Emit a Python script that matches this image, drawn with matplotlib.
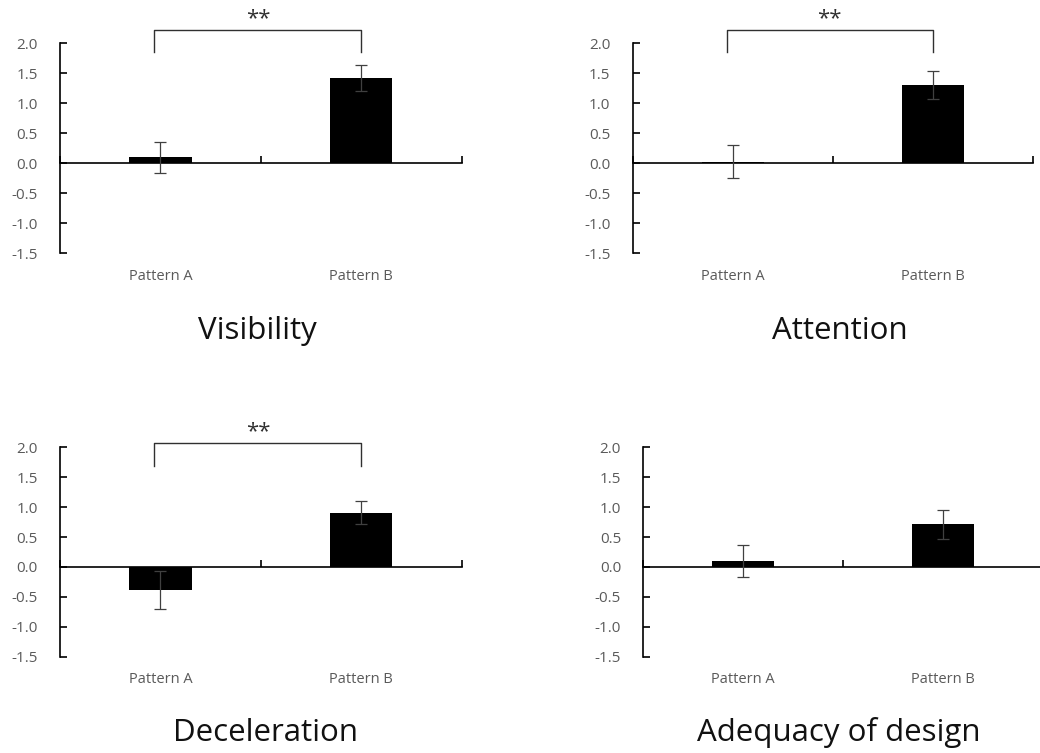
import matplotlib
matplotlib.use("Agg")
import matplotlib.pyplot as plt
from matplotlib.transforms import blended_transform_factory

plt.rcParams['font.family'] = ['Open Sans', 'DejaVu Sans']

categories = ["Pattern A", "Pattern B"]
titles = ["Visibility", "Attention", "Deceleration", "Adequacy of design"]
means = [
    [0.10, 1.42],
    [0.03, 1.30],
    [-0.39, 0.91],
    [0.10, 0.71],
]
errors = [
    [0.26, 0.215],
    [0.27, 0.235],
    [0.32, 0.195],
    [0.27, 0.25],
]
significance = ["**", "**", "**", ""]
bracket_top = [2.22, 2.22, 2.07, None]
bracket_leg = [1.85, 1.85, 1.68, None]
yticks = [-1.5, -1.0, -0.5, 0.0, 0.5, 1.0, 1.5, 2.0]

W, H = 1040, 753
fig = plt.figure(figsize=(W / 100, H / 100), dpi=100)

# axes boxes in pixels: (left, top, width, height)
boxes = [
    (60, 43.3, 401.7, 210),
    (632.7, 43.3, 400, 210),
    (60, 447.3, 401.7, 209.4),
    (643.3, 447.3, 400, 209.4),
]
title_pos = [(257, 331), (840, 331), (266, 733), (839, 733)]

gray = "#5a5a5a"
for i, (l, t, w, h) in enumerate(boxes):
    ax = fig.add_axes([l / W, 1 - (t + h) / H, w / W, h / H])
    ax.set_xlim(0, 2)
    ax.set_ylim(-1.5, 2.0)
    x = [0.5, 1.5]
    ax.bar(x, means[i], width=0.31, color="black", zorder=2)
    ax.errorbar(x, means[i], yerr=errors[i], fmt="none", ecolor="#404040",
                elinewidth=0.9, capsize=4, capthick=0.9, zorder=3)
    for s in ["top", "right"]:
        ax.spines[s].set_visible(False)
    ax.spines["bottom"].set_position(("data", 0))
    ax.spines["left"].set_linewidth(1.2)
    ax.spines["bottom"].set_linewidth(1.2)
    ax.set_xticks([0, 1, 2])
    ax.set_xticklabels([])
    ax.tick_params(axis="x", direction="in", length=5, width=1.2)
    ax.set_yticks(yticks)
    ax.set_yticklabels([f"{v:.1f}" for v in yticks])
    ax.tick_params(axis="y", direction="in", length=5, width=1.2, pad=16,
                   labelsize=11, labelcolor=gray)
    tr = blended_transform_factory(ax.transData, ax.transAxes)
    for xi, c in zip(x, categories):
        ax.text(xi, -0.11, c, transform=tr, ha="center", va="center",
                fontsize=10.5, color=gray)
    if significance[i]:
        bt, bl = bracket_top[i], bracket_leg[i]
        ax.plot([0.47, 0.47, 1.5, 1.5], [bl, bt, bt, bl], color="#303030",
                lw=1.0, clip_on=False)
        ax.text(0.985, bt + 0.02, significance[i], ha="center", va="bottom",
                fontsize=16, color="#303030", clip_on=False)
    tx, ty = title_pos[i]
    fig.text(tx / W, 1 - ty / H, titles[i], ha="center",
             va="center", fontsize=22.5, color="#111111")

fig.savefig("out.png", dpi=100)
